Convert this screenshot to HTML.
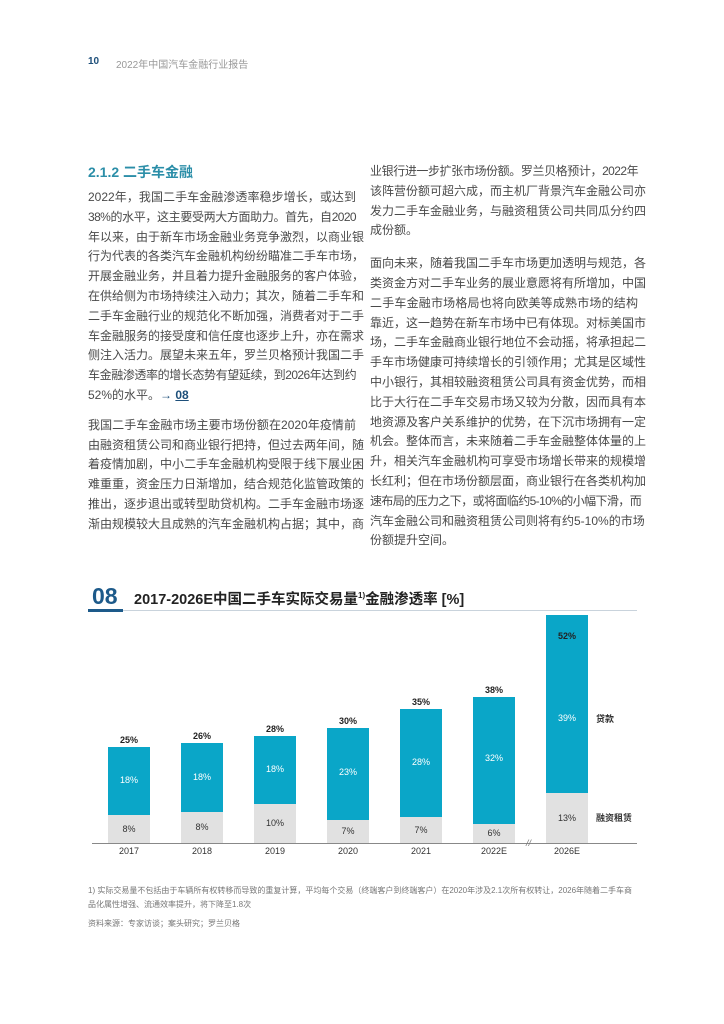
<!DOCTYPE html>
<html><head><meta charset="utf-8"><style>
*{margin:0;padding:0;box-sizing:border-box}
body{width:724px;height:1024px;background:#fff;position:relative;overflow:hidden;font-family:"Liberation Sans","Noto Sans CJK SC",sans-serif;color:#555}
.a{position:absolute;white-space:nowrap}
.t{font-size:12px;line-height:19.8px;color:#4a4a4a}
.col{position:absolute;width:268px}
.col div{height:19.8px;white-space:nowrap;text-align:justify;text-align-last:justify}
.col div.l{text-align-last:left}
.col div.n{letter-spacing:-0.6px}
.bar{position:absolute;width:42px}
.bl{background:#0aa6c8}
.gr{background:#e1e1e1}
.lab{position:absolute;width:60px;text-align:center;font-size:9px;transform:translateY(-50%)}
</style></head><body>
<div class="a" style="left:88px;top:56px;font-size:10px;font-weight:bold;color:#1d4f7a">10</div>
<div class="a" style="left:116px;top:56px;font-size:10px;color:#999">2022年中国汽车金融行业报告</div>
<div class="a" style="left:88px;top:162px;font-size:14px;font-weight:bold;color:#2b8ea8">2.1.2 二手车金融</div>

<div class="col t" style="left:88px;top:188px">
<div>2022年，我国二手车金融渗透率稳步增长，或达到</div>
<div class="n">38%的水平，这主要受两大方面助力。首先，自2020</div>
<div>年以来，由于新车市场金融业务竞争激烈，以商业银</div>
<div>行为代表的各类汽车金融机构纷纷瞄准二手车市场，</div>
<div>开展金融业务，并且着力提升金融服务的客户体验，</div>
<div>在供给侧为市场持续注入动力；其次，随着二手车和</div>
<div>二手车金融行业的规范化不断加强，消费者对于二手</div>
<div>车金融服务的接受度和信任度也逐步上升，亦在需求</div>
<div>侧注入活力。展望未来五年，罗兰贝格预计我国二手</div>
<div class="n">车金融渗透率的增长态势有望延续，到2026年达到约</div>
<div class="l">52%的水平。<b style="color:#1d4f7a">→ <u>08</u></b></div>
<div style="height:10px"></div>
<div>我国二手车金融市场主要市场份额在2020年疫情前</div>
<div>由融资租赁公司和商业银行把持，但过去两年间，随</div>
<div>着疫情加剧，中小二手车金融机构受限于线下展业困</div>
<div>难重重，资金压力日渐增加，结合规范化监管政策的</div>
<div>推出，逐步退出或转型助贷机构。二手车金融市场逐</div>
<div>渐由规模较大且成熟的汽车金融机构占据；其中，商</div>
</div>

<div class="col t" style="left:370px;top:162px">
<div class="n">业银行进一步扩张市场份额。罗兰贝格预计，2022年</div>
<div>该阵营份额可超六成，而主机厂背景汽车金融公司亦</div>
<div>发力二手车金融业务，与融资租赁公司共同瓜分约四</div>
<div class="l">成份额。</div>
<div style="height:13px"></div>
<div>面向未来，随着我国二手车市场更加透明与规范，各</div>
<div>类资金方对二手车业务的展业意愿将有所增加，中国</div>
<div>二手车金融市场格局也将向欧美等成熟市场的结构</div>
<div>靠近，这一趋势在新车市场中已有体现。对标美国市</div>
<div>场，二手车金融商业银行地位不会动摇，将承担起二</div>
<div>手车市场健康可持续增长的引领作用；尤其是区域性</div>
<div>中小银行，其相较融资租赁公司具有资金优势，而相</div>
<div>比于大行在二手车交易市场又较为分散，因而具有本</div>
<div>地资源及客户关系维护的优势，在下沉市场拥有一定</div>
<div>机会。整体而言，未来随着二手车金融整体体量的上</div>
<div>升，相关汽车金融机构可享受市场增长带来的规模增</div>
<div>长红利；但在市场份额层面，商业银行在各类机构加</div>
<div class="n">速布局的压力之下，或将面临约5-10%的小幅下滑，而</div>
<div>汽车金融公司和融资租赁公司则将有约5-10%的市场</div>
<div class="l">份额提升空间。</div>
</div>

<div class="a" style="left:92px;top:583px;font-size:23px;font-weight:bold;color:#1d5a8a">08</div>
<div class="a" style="left:134px;top:588px;font-size:14.5px;font-weight:bold;color:#222">2017-2026E中国二手车实际交易量<sup style="font-size:8px">1)</sup>金融渗透率 [%]</div>
<div class="a" style="left:88px;top:610px;width:549px;height:1px;background:#c9d3dc"></div>
<div class="a" style="left:88px;top:609px;width:35px;height:3px;background:#1d5a8a"></div>

<div class="bar bl" style="left:108px;top:747px;height:68px"></div><div class="bar gr" style="left:108px;top:815px;height:28px"></div>
<div class="bar bl" style="left:181px;top:743px;height:69px"></div><div class="bar gr" style="left:181px;top:812px;height:31px"></div>
<div class="bar bl" style="left:254px;top:736px;height:68px"></div><div class="bar gr" style="left:254px;top:804px;height:39px"></div>
<div class="bar bl" style="left:327px;top:728px;height:92px"></div><div class="bar gr" style="left:327px;top:820px;height:23px"></div>
<div class="bar bl" style="left:400px;top:709px;height:108px"></div><div class="bar gr" style="left:400px;top:817px;height:26px"></div>
<div class="bar bl" style="left:473px;top:697px;height:127px"></div><div class="bar gr" style="left:473px;top:824px;height:19px"></div>
<div class="bar bl" style="left:546px;top:615px;height:178px"></div><div class="bar gr" style="left:546px;top:793px;height:50px"></div>
<div class="a" style="left:92px;top:843px;width:545px;height:1px;background:#888"></div>
<div class="a" style="left:526px;top:838px;font-size:9px;color:#777;font-style:italic">//</div>

<div style="font-weight:bold;color:#222">
<div class="lab" style="left:99px;top:740px">25%</div>
<div class="lab" style="left:172px;top:736px">26%</div>
<div class="lab" style="left:245px;top:729px">28%</div>
<div class="lab" style="left:318px;top:721px">30%</div>
<div class="lab" style="left:391px;top:702px">35%</div>
<div class="lab" style="left:464px;top:690px">38%</div>
<div class="lab" style="left:537px;top:636px">52%</div>
</div>
<div style="color:#fff">
<div class="lab" style="left:99px;top:780px">18%</div>
<div class="lab" style="left:172px;top:777px">18%</div>
<div class="lab" style="left:245px;top:769px">18%</div>
<div class="lab" style="left:318px;top:772px">23%</div>
<div class="lab" style="left:391px;top:762px">28%</div>
<div class="lab" style="left:464px;top:758px">32%</div>
<div class="lab" style="left:537px;top:718px">39%</div>
</div>
<div style="color:#333">
<div class="lab" style="left:99px;top:829px">8%</div>
<div class="lab" style="left:172px;top:827px">8%</div>
<div class="lab" style="left:245px;top:823px">10%</div>
<div class="lab" style="left:318px;top:831px">7%</div>
<div class="lab" style="left:391px;top:830px">7%</div>
<div class="lab" style="left:464px;top:833px">6%</div>
<div class="lab" style="left:537px;top:818px">13%</div>
</div>
<div style="color:#333">
<div class="lab" style="left:99px;top:851px">2017</div>
<div class="lab" style="left:172px;top:851px">2018</div>
<div class="lab" style="left:245px;top:851px">2019</div>
<div class="lab" style="left:318px;top:851px">2020</div>
<div class="lab" style="left:391px;top:851px">2021</div>
<div class="lab" style="left:464px;top:851px">2022E</div>
<div class="lab" style="left:537px;top:851px">2026E</div>
</div>
<div class="a" style="left:596px;top:712px;font-size:9px;font-weight:bold;color:#333">贷款</div>
<div class="a" style="left:596px;top:811px;font-size:9px;font-weight:bold;color:#333">融资租赁</div>

<div class="a" style="left:88px;top:884px;font-size:8px;line-height:14px;color:#777;white-space:normal;width:550px">1) 实际交易量不包括由于车辆所有权转移而导致的重复计算，平均每个交易（终端客户到终端客户）在2020年涉及2.1次所有权转让，2026年随着二手车商品化属性增强、流通效率提升，将下降至1.8次</div>
<div class="a" style="left:88px;top:918px;font-size:8px;color:#777">资料来源：专家访谈；案头研究；罗兰贝格</div>
</body></html>
